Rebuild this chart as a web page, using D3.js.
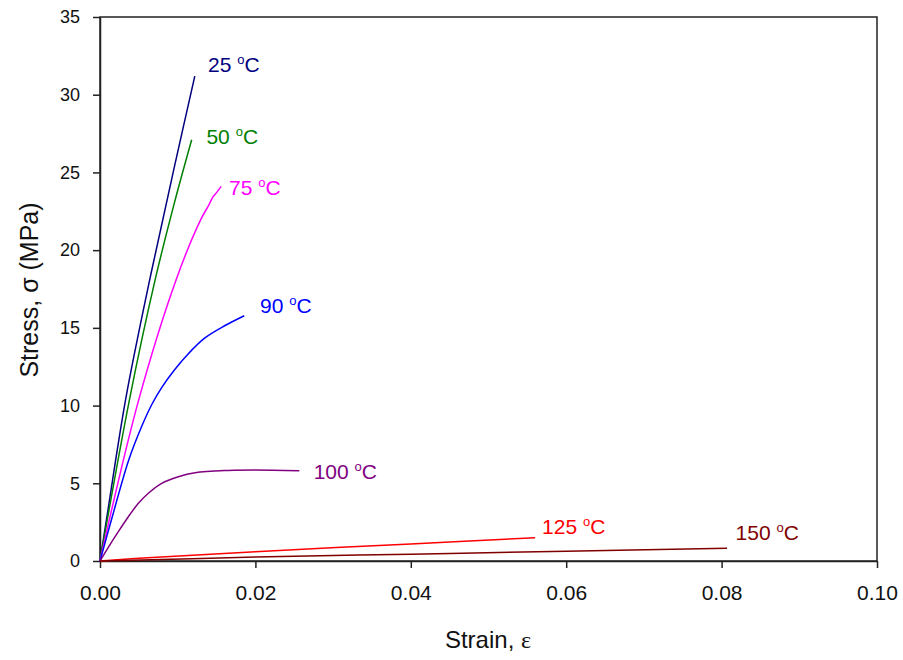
<!DOCTYPE html>
<html><head><meta charset="utf-8">
<script src="https://cdn.jsdelivr.net/npm/d3@7"></script>
<style>body{margin:0;background:#fff}svg{display:block}</style>
</head><body><svg id="c" width="903" height="660"></svg>
<script>
const temps = ["25","50","75","90","100","125","150"];
const colors = ["#000080","#008000","#ff00ff","#0000ff","#800080","#ff0000","#800000"];
const strain25 = [0,0.001,0.0033,0.0064,0.0095,0.0122];
const stress25 = [0,3.2,10.4,18.1,25.2,31.2];
const strain50 = [0,0.0038,0.0071,0.0095,0.0118];
const stress50 = [0,10.4,18.1,22.9,27.1];
const strain75 = [0,0.0050,0.0098,0.0129,0.0140,0.0145,0.0150,0.0156];
const stress75 = [0,10.4,18.1,21.9,22.9,23.4,23.7,24.1];
const strain90 = [0,0.0015,0.0037,0.0054,0.0067,0.0080,0.0096,0.0114,0.0135,0.0161,0.01857];
const stress90 = [0,2.7,6.5,8.7,10.1,11.2,12.3,13.35,14.35,15.15,15.78];
const strain100 = [0,0.00107,0.00236,0.00365,0.00494,0.00622,0.00794,0.01008,0.01223,0.01651,0.01995,0.02565];
const stress100 = [0,0.88,1.89,2.85,3.71,4.36,5.0,5.42,5.68,5.83,5.86,5.81];
const strain125 = [0,0.005,0.02,0.04,0.056];
const stress125 = [0,0.17,0.6,1.1,1.5];
const strain150 = [0,0.02,0.04,0.06,0.0807];
const stress150 = [0,0.25,0.44,0.63,0.82];
const labelX = [0.0139,0.0137,0.0166,0.0206,0.0275,0.0569,0.0818];
const labelY = [31.46,26.83,23.55,15.96,5.28,1.74,1.35];
const xTicks = [0,0.02,0.04,0.06,0.08,0.10];
const yTicks = [0,5,10,15,20,25,30,35];

const strains = [strain25,strain50,strain75,strain90,strain100,strain125,strain150];
const stresses = [stress25,stress50,stress75,stress90,stress100,stress125,stress150];

const svg = d3.select("#c");
const L=100,R=877,T=17,B=561;
const x = d3.scaleLinear().domain([0,0.10]).range([L,R]);
const y = d3.scaleLinear().domain([0,35]).range([B,T]);
const font = "Arial, 'Liberation Sans', sans-serif";

svg.append("rect").attr("x",L).attr("y",T).attr("width",R-L).attr("height",B-T)
  .attr("fill","none").attr("stroke","#222").attr("stroke-width",1.5);

const xa = svg.append("g").attr("transform",`translate(0,${B})`)
  .call(d3.axisBottom(x).tickValues(xTicks).tickFormat(d3.format(".2f")).tickSize(7).tickSizeOuter(0));
const ya = svg.append("g").attr("transform",`translate(${L},0)`)
  .call(d3.axisLeft(y).tickValues(yTicks).tickSize(7).tickSizeOuter(0).tickPadding(13));
[xa,ya].forEach(a=>{
  a.select(".domain").attr("stroke","#222").attr("stroke-width",1.5);
  a.selectAll(".tick line").attr("stroke","#222").attr("stroke-width",1.5);
  a.selectAll("text").attr("font-family",font).attr("fill","#111");
});
ya.selectAll("text").attr("font-size",18);
xa.selectAll("text").attr("font-size",21).attr("dy",null).attr("y",39);

const line = d3.line().x(d=>x(d[0])).y(d=>y(d[1])).curve(d3.curveCatmullRom.alpha(0.5));
strains.forEach((s,i)=>{
  const pts = s.map((v,j)=>[v,stresses[i][j]]);
  svg.append("path").attr("d",line(pts))
    .attr("fill","none").attr("stroke",colors[i]).attr("stroke-width",1.5);
});

temps.forEach((t,i)=>{
  const tx = svg.append("text").attr("x",x(labelX[i])).attr("y",y(labelY[i]))
    .attr("font-family",font).attr("font-size",21).attr("fill",colors[i]);
  tx.append("tspan").text(t+" ");
  tx.append("tspan").text("o").attr("font-size",13).attr("dy",-8);
  tx.append("tspan").text("C").attr("dy",8);
});

const xt = svg.append("text").attr("x",488).attr("y",648).attr("text-anchor","middle")
  .attr("font-family",font).attr("font-size",24).attr("fill","#111");
xt.append("tspan").text("Strain, ");
xt.append("tspan").text("ε").attr("font-family","'Liberation Serif','Times New Roman',serif");

svg.append("text").attr("transform","translate(38,290) rotate(-90)").attr("text-anchor","middle")
  .attr("font-family",font).attr("font-size",25).attr("fill","#111").text("Stress, σ (MPa)");
</script></body></html>
